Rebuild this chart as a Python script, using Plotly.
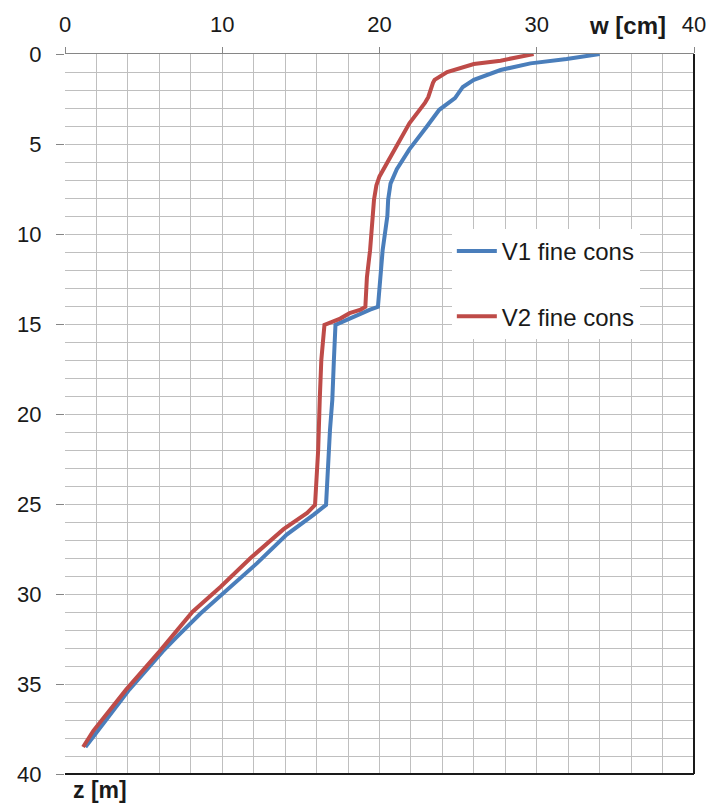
import plotly.graph_objects as go

# Settlement profiles: depth z [m] versus displacement w [cm]
v1_w = [34.0, 31.9, 29.6, 27.7, 26.0, 25.3, 24.8, 23.8, 23.0, 21.9, 21.1, 20.7,
        20.55, 20.5, 20.2, 20.0, 19.9, 19.4, 17.5, 17.2, 17.1, 17.0, 16.85, 16.7,
        16.6, 15.8, 14.1, 12.2, 10.3, 8.6, 7.1, 6.2, 4.1, 2.0, 1.3]
v1_z = [0.0, 0.28, 0.52, 0.89, 1.44, 1.83, 2.45, 3.1, 4.04, 5.3, 6.4, 7.2,
        8.1, 9.0, 10.9, 12.7, 14.05, 14.2, 14.9, 15.05, 17.0, 19.2, 20.9, 23.0,
        25.05, 25.6, 26.7, 28.3, 29.8, 31.1, 32.4, 33.2, 35.3, 37.7, 38.5]

v2_w = [29.8, 27.7, 26.0, 24.3, 23.5, 23.4, 23.1, 22.9, 21.9, 21.0, 20.0, 19.8,
        19.65, 19.4, 19.2, 19.1, 18.8, 18.1, 17.5, 16.5, 16.3, 16.2, 16.1, 15.9,
        15.4, 13.9, 11.8, 9.9, 8.1, 6.0, 3.9, 1.8, 1.15]
v2_z = [0.0, 0.37, 0.56, 1.0, 1.44, 1.6, 2.4, 2.7, 3.85, 5.3, 6.8, 7.3,
        8.1, 10.9, 12.4, 14.05, 14.2, 14.4, 14.7, 15.05, 17.0, 19.2, 22.0, 25.05,
        25.5, 26.4, 28.0, 29.6, 31.0, 33.2, 35.3, 37.6, 38.5]

series_names = ["V1 fine cons", "V2 fine cons"]
series_colors = ["#4A7EBB", "#BE4B48"]

FONT = "Liberation Sans, Arial, sans-serif"
GRID = "#BFBFBF"

fig = go.Figure()
for name, w, z, col in zip(series_names, [v1_w, v2_w], [v1_z, v2_z], series_colors):
    fig.add_trace(go.Scatter(
        x=w, y=z, mode="lines", name=name, legendgroup=name,
        line=dict(color=col, width=4),
    ))

fig.update_layout(
    width=710, height=805,
    margin=dict(l=65, r=16, t=54, b=31, autoexpand=False),
    paper_bgcolor="white", plot_bgcolor="white",
    font=dict(family=FONT, size=22, color="#1A1A1A"),
    showlegend=True,
    legend=dict(
        x=0.615, y=0.757, xanchor="left", yanchor="top",
        bgcolor="white", borderwidth=0,
        font=dict(family=FONT, size=24, color="#1A1A1A"),
        tracegroupgap=31, itemwidth=40,
    ),
    xaxis=dict(
        side="top", range=[0, 40], dtick=10, tick0=0,
        automargin=False,
        showline=True, linecolor="#868686", linewidth=1,
        ticks="outside", ticklen=6, tickcolor="#868686",
        ticklabelstandoff=6,
        showgrid=True, gridcolor=GRID, gridwidth=1,
        minor=dict(dtick=2, showgrid=True, gridcolor=GRID, gridwidth=1),
        zeroline=False,
        tickfont=dict(size=22),
    ),
    yaxis=dict(
        range=[40, 0], dtick=5, tick0=0,
        automargin=False,
        showline=False,
        ticks="outside", ticklen=8, tickcolor="#868686",
        ticklabelstandoff=10,
        showgrid=True, gridcolor=GRID, gridwidth=1,
        minor=dict(dtick=1, showgrid=True, gridcolor=GRID, gridwidth=1),
        zeroline=False,
        tickfont=dict(size=22),
    ),
    shapes=[
        dict(type="line", xref="paper", yref="paper", x0=0, x1=1, y0=0, y1=0,
             line=dict(color="#1A1A1A", width=2)),
        dict(type="line", xref="paper", yref="paper", x0=1, x1=1, y0=0, y1=1,
             line=dict(color="#1A1A1A", width=2)),
    ],
    annotations=[
        dict(text="<b>w [cm]</b>", xref="paper", yref="paper",
             x=0.895, y=1, yshift=29, xanchor="center", yanchor="middle",
             showarrow=False, font=dict(family=FONT, size=24, color="#1A1A1A")),
        dict(text="<b>z [m]</b>", xref="paper", yref="paper",
             x=0.01, y=0, yshift=-16, xanchor="left", yanchor="middle",
             showarrow=False, font=dict(family=FONT, size=23, color="#1A1A1A")),
    ],
)

fig.write_html("out.html")
